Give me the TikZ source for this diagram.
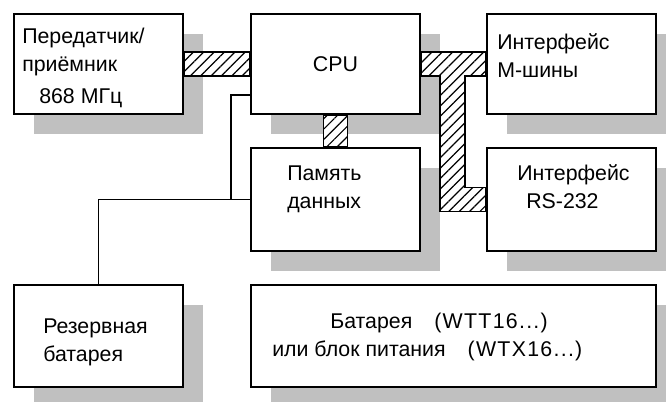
\documentclass[tikz,border=0pt]{standalone}
\usepackage{fontspec}
\setmainfont{Liberation Sans}
\usetikzlibrary{calc,shadows,patterns.meta}
\definecolor{shadowgray}{RGB}{192,192,192}
\newcommand{\wide}[1]{{\addfontfeature{LetterSpace=6}#1}}
\tikzset{
	blk/.style={draw,line width=1.2pt,fill=white,inner sep=0pt,
		minimum width=126.75pt,minimum height=75pt,
		drop shadow={shadow xshift=15pt,shadow yshift=-15pt,fill=shadowgray,opacity=1}},
	txt/.style={anchor=west,align=left,inner sep=0pt},
	bus/.style={draw,line width=1.2pt,preaction={fill=white},
		pattern={Lines[angle=45,distance=5.5pt,line width=0.9pt]}},
	wire/.style={line width=1.2pt}
}
\begin{document}
\begin{tikzpicture}[x=0.75pt,y=-0.75pt,line join=miter,font=\fontsize{16}{21}\selectfont]
		\path[use as bounding box,fill=white] (0,0) rectangle (666,401);
		% blocks
		\node[blk] (rx) at (98.5,64) {};
		\node[blk] (cpu) at (335.5,64) {CPU};
		\node[blk] (mbus) at (571.5,64) {};
		\node[blk,minimum height=77.25pt] (mem) at (335.5,199.5) {};
		\node[blk,minimum height=77.25pt] (rs) at (571.5,199.5) {};
		\node[blk,minimum height=76.5pt] (bak) at (98.5,336) {};
		\node[blk,minimum width=303.75pt,minimum height=76.5pt] (pwr) at (453.5,336) {};
		
		% texts
		\node[txt] (rxtxt) at (22,68) {Передатчик/\\приёмник\\[3pt]\hspace*{12.75pt}868 МГц};
		\node[txt] (mbustxt) at (497,56) {Интерфейс\\М-шины};
		\node[txt] (memtxt) at (287,189.5) {Память\\данных};
		\node[txt] (rstxt) at (517,187) {Интерфейс\\\hspace*{6.75pt}RS-232};
		\node[txt] (baktxt) at (43,342) {Резервная\\батарея};
		\node[txt] (pwrtxt) at (272,337) {\hspace*{43.5pt}Батарея\hspace{16.5pt}\wide{(WTT16...)}\\или блок питания\hspace{16.5pt}\wide{(WTX16...)}};
		
		% buses
		\draw[bus] ($(rx.east)+(0,-12)$) rectangle ($(cpu.west)+(0,12)$);
		\draw[bus] ($(cpu.south)+(-12,0)$) rectangle ($(mem.north)+(12,0)$);
		\draw[bus] ($(cpu.east)+(0,-12)$) -- ($(mbus.west)+(0,-12)$) -- ($(mbus.west)+(0,12)$)
			-- ($(cpu.east)+(44,12)$) |- ($(rs.west)+(0,-12)$) -- ($(rs.west)+(0,12)$)
			-| ($(cpu.east)+(19,12)$) -- ($(cpu.east)+(0,12)$) -- cycle;
		
		% backup supply
		\draw[wire] ($(cpu.west)+(0,31)$) -| ($(mem.west)+(-19,0)$);
		\draw[wire] (mem.west) -| (bak.north);
\end{tikzpicture}
\end{document}
